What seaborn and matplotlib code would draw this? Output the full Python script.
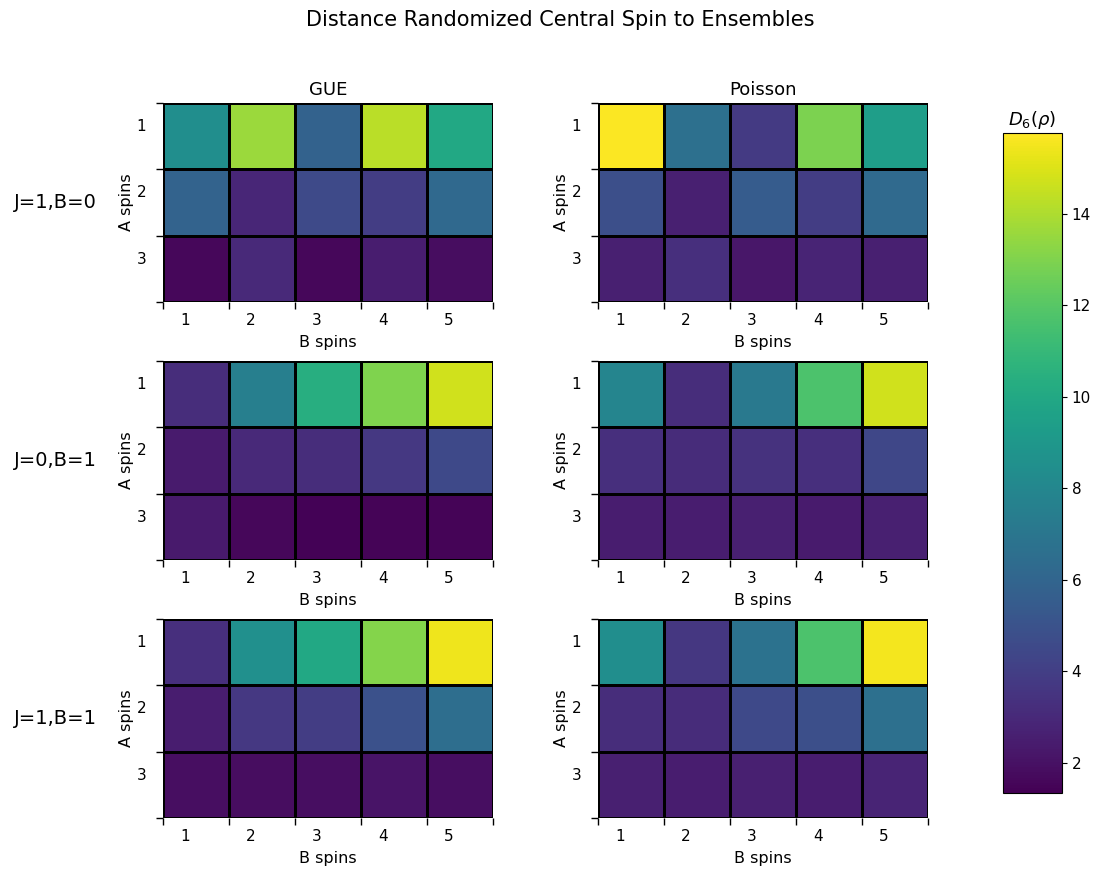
import numpy as np
import matplotlib
matplotlib.use("Agg")
import matplotlib.pyplot as plt
import seaborn as sns
from matplotlib.colors import Normalize
from matplotlib.cm import ScalarMappable

# ---- data ----
a_spins = [1, 2, 3]
b_spins = [1, 2, 3, 4, 5]
ensembles = ["GUE", "Poisson"]
settings = ["J=1,B=0", "J=0,B=1", "J=1,B=1"]

gue_j1_b0 = [[8.4, 13.6, 5.8, 14.3, 10.0],
             [5.9, 2.9, 4.6, 3.9, 6.2],
             [1.6, 3.0, 1.6, 2.5, 1.8]]
poi_j1_b0 = [[15.7, 6.6, 3.8, 12.9, 9.4],
             [4.8, 2.6, 5.5, 3.9, 6.3],
             [2.6, 3.3, 2.2, 2.8, 2.6]]
gue_j0_b1 = [[3.2, 7.5, 10.4, 13.0, 14.7],
             [2.4, 3.0, 3.2, 3.7, 4.5],
             [2.3, 1.6, 1.4, 1.5, 1.5]]
poi_j0_b1 = [[7.9, 3.2, 7.2, 11.7, 14.7],
             [3.3, 3.1, 3.4, 3.3, 4.4],
             [2.5, 2.5, 2.6, 2.4, 2.6]]
gue_j1_b1 = [[3.3, 8.5, 10.0, 13.1, 15.4],
             [2.5, 3.7, 3.9, 4.9, 6.5],
             [1.9, 1.8, 1.9, 2.1, 1.9]]
poi_j1_b1 = [[8.4, 3.6, 6.8, 11.7, 15.5],
             [3.2, 3.1, 4.5, 4.8, 6.6],
             [2.6, 2.5, 2.6, 2.5, 2.8]]

vmin, vmax = 1.34, 15.77
panels = [[gue_j1_b0, poi_j1_b0],
          [gue_j0_b1, poi_j0_b1],
          [gue_j1_b1, poi_j1_b1]]

W, H = 1099, 871
fig = plt.figure(figsize=(W / 100, H / 100), dpi=100)

col_left = [163, 598]
row_top = [103, 361, 619]
ax_w, ax_h = 330, 199

for r in range(3):
    for c in range(2):
        x0 = col_left[c] / W
        y0 = 1 - (row_top[r] + ax_h) / H
        ax = fig.add_axes([x0, y0, ax_w / W, ax_h / H])
        sns.heatmap(np.array(panels[r][c]), ax=ax, cmap="viridis",
                    vmin=vmin, vmax=vmax, cbar=False,
                    linewidths=2, linecolor="black",
                    xticklabels=False, yticklabels=False)
        ax.set_xticks(np.arange(len(b_spins) + 1))
        ax.set_yticks(np.arange(len(a_spins) + 1))
        ax.set_xticklabels([])
        ax.set_yticklabels([])
        ax.set_xticks(np.arange(len(b_spins)) + 0.33, minor=True)
        ax.set_yticks(np.arange(len(a_spins)) + 0.33, minor=True)
        ax.set_xticklabels([str(b) for b in b_spins], minor=True, fontsize=11)
        ax.set_yticklabels([str(a) for a in a_spins], minor=True, fontsize=11, rotation=0)
        ax.tick_params(which="major", length=5, width=1, color="black")
        ax.tick_params(which="minor", length=0, pad=8)
        ax.tick_params(axis="y", which="minor", pad=12)
        ax.set_xlabel("B spins", fontsize=11.5, labelpad=5)
        ax.set_ylabel("A spins", fontsize=11.5, labelpad=2)
        if r == 0:
            ax.set_title(ensembles[c], fontsize=13, pad=6)
    fig.text(55 / W, 1 - (row_top[r] + ax_h / 2) / H, settings[r],
             fontsize=14, ha="center", va="center")

cax = fig.add_axes([1003 / W, 1 - 793 / H, 59 / W, 660 / H])
sm = ScalarMappable(norm=Normalize(vmin=vmin, vmax=vmax), cmap="viridis")
cb = fig.colorbar(sm, cax=cax)
cb.set_ticks([2, 4, 6, 8, 10, 12, 14])
cb.ax.tick_params(labelsize=11)
cax.set_title(r"$D_6(\rho)$", fontsize=13, pad=6)

fig.text(560 / W, 1 - 20 / H, "Distance Randomized Central Spin to Ensembles",
         fontsize=15, ha="center", va="center")

fig.savefig("out.png", dpi=100)
